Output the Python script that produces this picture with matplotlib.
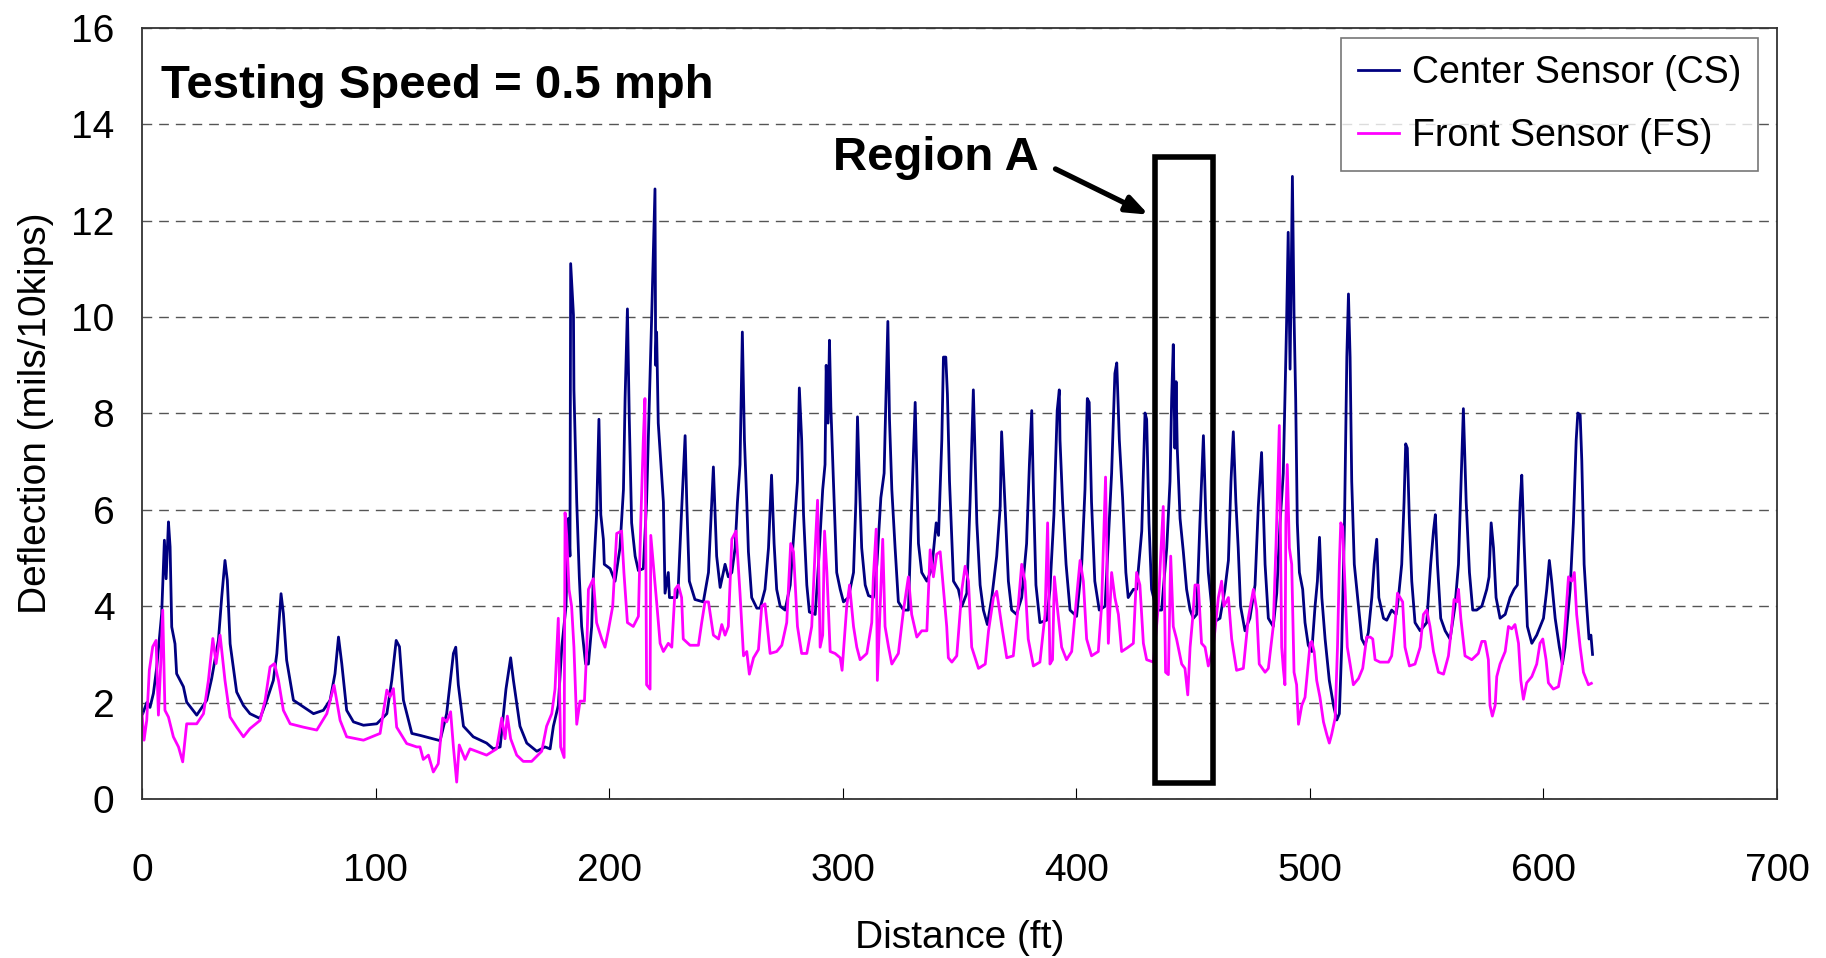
import matplotlib
matplotlib.use("Agg")
import matplotlib.pyplot as plt
from matplotlib.patches import Rectangle

plt.rcParams['font.family'] = ['Liberation Sans', 'DejaVu Sans']

# Center sensor (CS) trace: distance (ft), deflection (mils/10kips)
cs_dist = [0.3, 2.0, 3.4, 4.85, 6.3, 8.4, 9.56, 10.3, 11.3, 12.0, 12.7, 14.1, 14.8, 17.7, 19.1, 23.4,
           27.7, 29.8, 32.7, 34.1, 35.5, 36.5, 37.7, 40.5, 43.4, 46.2, 50.5, 53.4, 56.2, 57.7, 59.5,
           60.5, 61.9, 64.8, 69.1, 73.4, 77.6, 80.5, 82.6, 84.1, 85.5, 87.6, 90.5, 94.8, 100.5, 104.8,
           106.9, 108.8, 110.2, 111.9, 115.5, 119.0, 127.6, 130.4, 133.3, 134.3, 135.4, 137.6, 141.8,
           147.5, 150.4, 153.3, 155.8, 157.8, 159.0, 161.8, 164.7, 169.0, 172.5, 174.7, 176.1, 178.2,
           179.7, 181.5, 182.5, 183.2, 183.5, 184.7, 184.9, 186.1, 187.2, 188.2, 189.9, 191.1, 192.5,
           193.2, 194.6, 195.6, 196.4, 197.5, 197.9, 200.4, 202.5, 204.6, 206.1, 206.8, 207.8, 208.6,
           209.6, 211.1, 212.5, 214.6, 216.0, 218.2, 219.6, 219.9, 220.3, 221.0, 223.2, 223.9, 225.3,
           225.8, 228.9, 229.6, 231.0, 232.5, 233.2, 234.3, 236.7, 240.3, 242.5, 243.5, 244.6, 246.0,
           247.5, 249.6, 251.0, 252.5, 253.9, 254.9, 256.0, 257.0, 257.9, 258.9, 259.6, 261.0, 263.2,
           264.6, 266.7, 268.2, 269.5, 270.6, 271.7, 273.2, 275.3, 277.5, 279.6, 280.6, 281.4, 282.4,
           283.2, 284.6, 285.7, 288.2, 289.6, 291.4, 292.4, 292.9, 293.7, 294.3, 294.9, 296.0, 297.4,
           298.9, 300.3, 302.4, 304.6, 305.6, 306.3, 307.1, 308.1, 309.6, 311.0, 313.1, 314.6, 316.3,
           317.7, 318.1, 319.3, 320.0, 321.0, 322.4, 323.8, 326.0, 328.1, 329.5, 331.0, 332.4, 333.8,
           336.0, 338.1, 340.0, 341.0, 342.4, 343.1, 344.1, 344.8, 345.7, 347.4, 349.5, 351.0, 353.1,
           354.5, 355.9, 357.4, 358.8, 360.2, 361.9, 363.8, 365.9, 367.4, 368.0, 369.4, 370.9, 372.3,
           374.4, 376.6, 378.7, 379.9, 380.9, 381.6, 382.7, 384.4, 387.3, 388.7, 390.4, 391.8, 392.7,
           393.0, 394.1, 395.6, 397.3, 400.1, 402.3, 403.7, 404.7, 405.5, 406.5, 407.9, 409.8, 412.3,
           413.7, 415.1, 416.5, 417.3, 418.4, 419.8, 421.2, 422.2, 424.4, 425.8, 428.0, 429.4, 430.1,
           431.1, 432.2, 434.4, 436.5, 438.7, 440.1, 440.8, 441.5, 442.2, 442.7, 443.2, 444.4, 445.8,
           447.2, 448.7, 450.1, 451.5, 452.9, 454.4, 455.5, 456.5, 458.6, 461.5, 463.6, 465.1, 466.2,
           467.2, 468.3, 469.3, 470.3, 472.2, 474.3, 476.5, 477.9, 479.3, 480.8, 482.2, 484.3, 485.8,
           487.2, 488.6, 490.0, 490.7, 491.5, 492.5, 493.2, 493.9, 494.6, 495.5, 496.9, 497.9, 499.3,
           500.8, 502.2, 503.2, 504.1, 505.1, 506.5, 508.3, 510.1, 511.5, 512.6, 513.6, 514.8, 515.8,
           516.5, 517.2, 517.9, 519.0, 520.8, 522.2, 523.6, 525.0, 526.5, 527.5, 528.6, 529.5, 531.5,
           532.9, 535.0, 536.9, 537.9, 539.3, 540.3, 541.0, 541.7, 542.6, 543.6, 545.0, 547.2, 550.0,
           551.7, 552.9, 553.7, 554.6, 556.0, 557.9, 560.0, 562.1, 563.6, 564.6, 565.7, 566.9, 568.3,
           569.7, 571.4, 573.6, 575.7, 576.7, 577.6, 578.6, 579.7, 581.4, 583.6, 585.7, 587.4, 588.8,
           590.0, 590.7, 591.7, 593.1, 595.0, 597.1, 600.0, 601.4, 602.5, 603.5, 605.0, 606.8, 608.1,
           609.2, 611.4, 612.8, 614.0, 614.7, 615.7, 616.4, 617.4, 618.5, 619.5, 620.3, 621.0]
cs_defl = [1.77, 2.0, 1.9, 2.19, 2.74, 3.85, 5.37, 4.57, 5.75, 5.23, 3.57, 3.22, 2.6, 2.33, 2.01, 1.74,
           2.05, 2.5, 3.3, 4.19, 4.95, 4.54, 3.22, 2.22, 1.94, 1.77, 1.67, 2.05, 2.46, 3.02, 4.26,
           3.85, 2.88, 2.05, 1.91, 1.77, 1.84, 2.05, 2.6, 3.36, 2.81, 1.84, 1.6, 1.53, 1.56, 1.77,
           2.46, 3.29, 3.16, 2.05, 1.36, 1.32, 1.21, 1.77, 3.02, 3.15, 2.37, 1.51, 1.29,
           1.16, 1.04, 1.08, 2.28, 2.93, 2.46, 1.51, 1.16, 0.99, 1.08, 1.04, 1.51, 1.94,
           3.15, 4.0, 5.82, 5.04, 11.11, 10.04, 8.49, 6.16, 4.61, 3.58, 2.8, 2.8, 3.58,
           4.61, 5.9, 7.88, 5.9, 5.39, 4.87, 4.78, 4.52, 5.21, 6.42, 8.31, 10.17, 7.88,
           5.73, 5.04, 4.74, 4.78, 6.16, 10.04, 12.66, 9.0, 9.69, 7.8, 6.16, 4.27, 4.7,
           4.18, 4.18, 4.44, 5.99, 7.54, 6.16, 4.52, 4.14, 4.09, 4.7, 5.73, 6.89, 5.04,
           4.39, 4.87, 4.61, 4.7, 5.21, 6.16, 6.94, 9.69, 7.45, 6.16, 5.13, 4.18, 3.96,
           3.96, 4.35, 5.21, 6.72, 5.3, 4.35, 4.0, 3.92, 4.44, 5.9, 6.59, 8.53, 7.45,
           5.9, 4.44, 3.88, 3.83, 4.87, 6.42, 6.94, 9.0, 7.8, 9.52, 8.14, 6.59, 4.7,
           4.35, 4.09, 4.18, 4.7, 6.16, 7.93, 6.59, 5.21, 4.44, 4.22, 4.18, 4.87, 6.25,
           6.76, 7.58, 9.91, 7.88, 6.42, 5.21, 4.09, 3.92, 3.92, 6.07, 8.23, 5.3, 4.7,
           4.52, 4.78, 5.73, 5.47, 7.45, 9.17, 9.17, 8.4, 6.59, 4.52, 4.35, 4.0, 4.27,
           6.16, 8.49, 5.73, 4.44, 3.92, 3.62, 4.18, 5.04, 6.07, 7.62, 6.16, 4.52, 3.92,
           3.83, 4.18, 5.3, 6.94, 8.06, 6.42, 4.44, 3.66, 3.71, 4.35, 5.9, 8.06, 8.49,
           7.45, 6.16, 4.87, 3.92, 3.79, 4.87, 6.42, 8.31, 8.23, 6.16, 4.52, 3.92, 4.0,
           5.39, 6.76, 8.83, 9.05, 7.45, 6.25, 4.7, 4.18, 4.35, 4.35, 5.56, 8.01, 7.88,
           5.73, 4.35, 3.92, 3.92, 5.21, 6.59, 8.31, 9.43, 7.28, 8.66, 7.28, 5.82, 5.13,
           4.35, 3.92, 3.75, 3.83, 5.73, 7.54, 5.73, 4.7, 3.66, 3.75, 4.35, 4.95, 6.59,
           7.62, 6.16, 5.21, 4.0, 3.49, 3.75, 4.44, 6.07, 7.19, 4.87, 3.75, 3.58, 4.27,
           5.73, 6.76, 9.86, 11.76, 8.92, 12.92, 10.04, 8.31, 5.73, 4.7, 4.35, 3.66, 3.19,
           3.06, 4.0, 4.52, 5.43, 4.18, 3.32, 2.46, 1.94, 1.64, 1.77, 3.15, 5.73, 9.17,
           10.48, 9.17, 6.59, 4.87, 4.0, 3.32, 3.19, 3.45, 4.18, 4.87, 5.39, 4.18, 3.75,
           3.71, 3.92, 3.83, 4.18, 4.87, 6.16, 7.37, 7.28, 5.73, 4.52, 3.66, 3.49, 3.66,
           4.87, 5.56, 5.9, 4.87, 3.75, 3.49, 3.32, 4.0, 4.87, 6.42, 8.1, 6.16, 4.7,
           3.92, 3.92, 4.0, 4.35, 4.61, 5.73, 5.21, 4.18, 3.75, 3.83, 4.18, 4.35, 4.44,
           6.16, 6.72, 5.3, 3.58, 3.23, 3.4, 3.75, 4.35, 4.95, 4.52, 3.75, 3.15, 2.8,
           3.15, 4.35, 5.73, 7.45, 8.01, 7.97, 7.02, 4.87, 4.0, 3.32, 3.4, 3.0]

# Front sensor (FS) trace
fs_dist = [0.0, 0.85, 2.0, 3.1, 4.56, 6.0, 7.0, 8.0, 8.85, 9.8, 11.3, 13.4, 15.6, 17.4, 19.1, 23.4,
           26.3, 28.4, 30.3, 31.7, 33.4, 35.5, 37.7, 40.5, 43.4, 46.2, 50.5, 52.7, 54.8, 56.7, 58.4,
           60.5, 63.4, 69.1, 74.8, 79.1, 82.2, 84.8, 87.6, 94.8, 101.9, 104.8, 106.2, 107.6, 109.0,
           113.3, 117.6, 119.0, 120.4, 122.6, 124.7, 126.8, 128.7, 130.4, 132.1, 133.3, 134.7, 135.8,
           138.3, 140.4, 147.5, 151.8, 154.0, 155.4, 156.4, 157.8, 160.4, 163.2, 166.8, 171.1, 173.2,
           175.4, 176.8, 178.2, 179.2, 180.7, 181.1, 181.8, 182.8, 183.9, 184.9, 186.1, 187.5, 189.4,
           190.4, 191.1, 193.2, 194.6, 196.8, 198.2, 199.6, 201.5, 203.2, 205.3, 206.3, 207.8, 210.3,
           212.5, 213.5, 214.6, 215.3, 216.0, 217.5, 217.8, 218.9, 220.3, 221.8, 223.2, 225.3, 226.8,
           228.2, 229.6, 231.0, 231.7, 234.6, 238.2, 239.6, 241.0, 242.5, 244.6, 246.8, 248.2, 249.6,
           251.0, 252.5, 254.3, 256.0, 257.5, 258.9, 260.0, 261.8, 263.9, 265.3, 266.7, 268.9, 271.7,
           273.9, 276.0, 277.7, 278.9, 280.6, 282.4, 284.6, 286.7, 288.2, 289.2, 290.3, 291.4, 292.2,
           293.2, 294.6, 296.7, 298.9, 299.7, 301.7, 302.9, 304.6, 306.0, 307.4, 310.3, 312.4, 313.1,
           314.3, 314.8, 316.0, 317.1, 318.1, 319.6, 321.0, 323.8, 326.0, 328.1, 329.5, 331.7, 333.8,
           336.0, 337.4, 338.8, 340.2, 341.7, 343.1, 344.5, 345.2, 346.7, 348.8, 351.0, 352.4, 353.8,
           355.2, 358.1, 361.0, 362.4, 364.5, 365.9, 368.1, 370.2, 373.0, 375.1, 376.6, 378.0, 379.4,
           381.6, 384.4, 386.6, 387.7, 388.7, 389.8, 390.6, 391.8, 393.7, 395.8, 398.0, 400.1, 401.6,
           403.0, 404.4, 406.5, 409.4, 410.8, 412.5, 413.7, 415.1, 416.5, 418.0, 419.4, 422.2, 424.4,
           425.8, 427.2, 428.7, 430.1, 433.0, 435.1, 436.1, 437.2, 438.2, 439.4, 440.4, 441.5, 442.9,
           445.1, 446.5, 447.7, 448.7, 449.8, 450.8, 452.2, 453.6, 455.1, 456.5, 458.6, 460.8, 462.2,
           463.2, 465.1, 466.5, 468.6, 471.5, 473.6, 475.8, 477.2, 478.3, 480.8, 482.2, 484.3, 485.5,
           486.9, 487.9, 488.6, 489.3, 489.7, 490.3, 491.2, 492.2, 493.2, 494.3, 495.1, 496.5, 497.9,
           498.9, 500.1, 500.8, 501.8, 502.9, 504.3, 505.8, 507.2, 508.3, 509.3, 510.8, 511.8, 512.6,
           513.2, 514.0, 515.0, 516.0, 517.2, 518.6, 520.8, 522.6, 524.3, 525.8, 526.9, 527.9, 530.0,
           533.6, 535.0, 536.5, 537.5, 538.6, 539.7, 540.7, 542.6, 545.0, 547.2, 548.6, 550.0, 551.4,
           552.9, 555.0, 557.2, 559.3, 560.7, 561.7, 562.9, 563.6, 564.6, 566.4, 569.3, 572.1, 573.6,
           575.0, 576.4, 577.1, 578.1, 579.3, 580.0, 581.4, 583.6, 585.0, 586.4, 587.8, 589.3, 590.3,
           591.4, 592.8, 595.0, 597.1, 598.5, 599.7, 601.1, 602.1, 604.2, 606.4, 607.8, 609.2, 610.7,
           612.1, 613.2, 614.2, 615.7, 617.1, 619.2, 620.5]
fs_defl = [1.77, 1.22, 1.63, 2.67, 3.16, 3.29, 1.74, 2.81, 3.92, 1.84, 1.7, 1.29, 1.08, 0.77, 1.56, 1.56,
           1.77, 2.46, 3.33, 2.81, 3.4, 2.46, 1.7, 1.49, 1.29, 1.46, 1.63, 2.05, 2.74, 2.81, 2.46,
           1.84, 1.56, 1.49, 1.43, 1.77, 2.36, 1.63, 1.29, 1.22, 1.36, 2.26, 2.12, 2.29, 1.49,
           1.15, 1.08, 1.08, 0.82, 0.91, 0.56, 0.73, 1.68, 1.6, 1.81, 1.08, 0.35, 1.12,
           0.82, 1.04, 0.91, 1.04, 1.68, 1.25, 1.72, 1.25, 0.91, 0.78, 0.78, 0.99, 1.51,
           1.77, 2.28, 3.75, 1.08, 0.86, 5.94, 5.47, 4.35, 4.0, 3.15, 1.55, 2.03, 2.03,
           3.15, 4.35, 4.57, 3.66, 3.32, 3.15, 3.49, 4.0, 5.51, 5.56, 4.7, 3.66, 3.58,
           3.79, 5.73, 7.45, 8.31, 2.37, 2.28, 5.47, 4.87, 4.09, 3.23, 3.06, 3.23, 3.15,
           4.35, 4.44, 4.18, 3.32, 3.19, 3.19, 3.66, 4.09, 4.09, 3.4, 3.32, 3.62, 3.4,
           3.58, 5.39, 5.56, 4.27, 2.97, 3.06, 2.59, 2.93, 3.1, 4.0, 4.05, 3.02, 3.06,
           3.19, 3.66, 5.3, 5.13, 3.58, 3.02, 3.02, 3.58, 5.21, 6.2, 3.15, 3.4, 5.56,
           4.7, 3.06, 3.02, 2.93, 2.67, 4.0, 4.44, 3.58, 3.15, 2.89, 3.02, 3.66, 4.61,
           5.6, 2.46, 4.0, 5.39, 3.58, 3.15, 2.8, 3.02, 3.92, 4.61, 3.83, 3.36, 3.49,
           3.49, 5.17, 4.61, 5.08, 5.13, 4.35, 3.58, 2.93, 2.84, 2.97, 4.35, 4.83, 4.52,
           3.15, 2.71, 2.8, 3.49, 4.18, 4.31, 3.58, 2.93, 2.97, 4.0, 4.87, 4.52, 3.32,
           2.76, 2.84, 3.83, 5.73, 2.8, 2.89, 4.61, 4.0, 3.15, 2.89, 3.06, 4.18, 4.95,
           4.52, 3.32, 2.97, 3.06, 4.0, 6.68, 3.23, 4.7, 4.18, 3.83, 3.06, 3.15, 3.23,
           4.7, 4.44, 3.23, 2.89, 2.84, 4.0, 5.04, 6.07, 2.63, 2.58, 5.04, 3.58, 3.32,
           2.8, 2.71, 2.16, 3.15, 3.75, 4.44, 4.44, 3.23, 3.15, 2.76, 3.15, 4.18, 4.52,
           4.0, 4.18, 3.32, 2.67, 2.71, 3.75, 4.35, 3.92, 2.8, 2.63, 2.71, 3.58, 5.3,
           7.75, 3.15, 2.71, 2.37, 5.73, 6.94, 5.21, 4.87, 2.63, 2.37, 1.55, 1.94, 2.11,
           2.63, 3.23, 3.27, 3.06, 2.46, 2.11, 1.6, 1.34, 1.16, 1.34, 1.68, 3.15, 4.87,
           5.73, 5.65, 4.44, 3.15, 2.8, 2.37, 2.5, 2.71, 3.36, 3.36, 3.32, 2.89, 2.84,
           2.84, 2.97, 3.66, 4.27, 4.18, 4.09, 3.15, 2.76, 2.8, 3.15, 3.83, 3.92, 3.58,
           3.06, 2.63, 2.59, 2.97, 3.58, 4.14, 4.09, 4.35, 3.75, 2.97, 2.89, 3.02, 3.27,
           3.27, 2.89, 1.94, 1.72, 1.94, 2.54, 2.8, 3.06, 3.58, 3.53, 3.62, 3.23, 2.46,
           2.07, 2.41, 2.54, 2.8, 3.23, 3.32, 2.89, 2.41, 2.28, 2.33, 2.71, 3.58, 4.61,
           4.52, 4.7, 3.83, 3.15, 2.63, 2.37, 2.4]

x_ticks = [0, 100, 200, 300, 400, 500, 600, 700]
y_ticks = [0, 2, 4, 6, 8, 10, 12, 14, 16]

fig = plt.figure(figsize=(18.26, 9.58), dpi=100)
ax = fig.add_axes([0.0778, 0.166, 0.8954, 0.8048])

ax.plot(cs_dist, cs_defl, color="#000080", lw=2.0, label="Center Sensor (CS)")
ax.plot(fs_dist, fs_defl, color="#FF00FF", lw=2.0, label="Front Sensor (FS)")

ax.set_xlim(0, 700)
ax.set_ylim(0, 16)
ax.set_xticks(x_ticks)
ax.set_yticks(y_ticks)
ax.tick_params(axis="x", direction="in", length=8, pad=39, labelsize=28)
ax.tick_params(axis="y", direction="in", length=0, pad=20, labelsize=28)
ax.yaxis.grid(True, linestyle=(0, (7, 5)), color="#555555", lw=1.0)
ax.set_axisbelow(True)
for sp in ax.spines.values():
    sp.set_color("#333333")
    sp.set_linewidth(1.3)

ax.set_xlabel("Distance (ft)", fontsize=28, labelpad=22)
ax.set_ylabel("Deflection (mils/10kips)", fontsize=28, labelpad=12)

ax.text(8, 14.8, "Testing Speed = 0.5 mph", fontsize=34, fontweight="bold", va="center")
ax.text(384, 13.3, "Region A", fontsize=34, fontweight="bold", va="center", ha="right")
ax.annotate("", xy=(432, 12.1), xytext=(390, 13.1),
            arrowprops=dict(arrowstyle="-|>,head_length=1.3,head_width=0.5", color="black", lw=3.8))
ax.add_patch(Rectangle((433.7, 0.34), 24.9, 12.98, fill=False, lw=4, edgecolor="black", zorder=5))

leg = ax.legend(loc="upper right", fontsize=27, frameon=True, fancybox=False, handlelength=1.1,
                handletextpad=0.35, borderpad=0.45, labelspacing=0.72, borderaxespad=0,
                bbox_to_anchor=(0.9886, 0.9864))
leg.get_frame().set_edgecolor("#555555")
leg.get_frame().set_linewidth(1.2)

fig.savefig("out.png", dpi=100)
